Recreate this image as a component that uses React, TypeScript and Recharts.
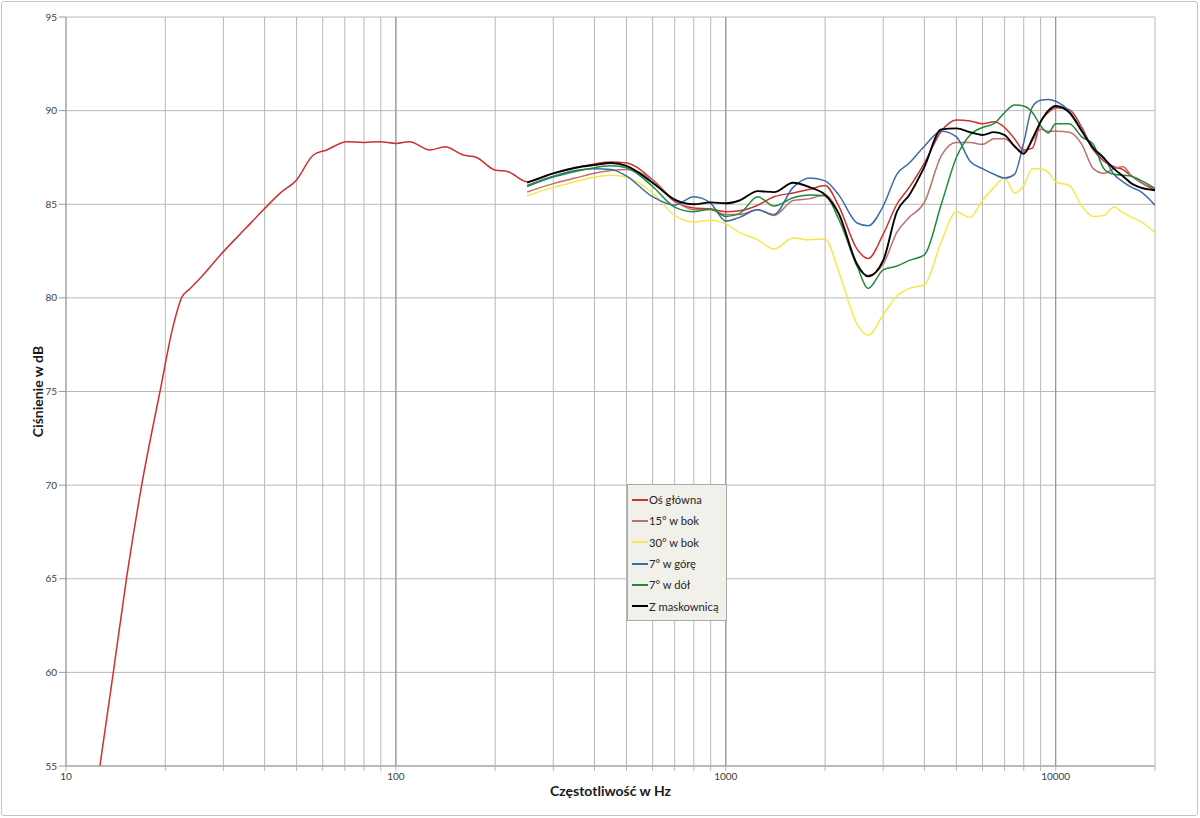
import React from 'react';
import { LineChart, Line, XAxis, YAxis, CartesianGrid, Legend, Label, ReferenceLine } from 'recharts';

// Frequencies (Hz) for the low-frequency part of the main axis curve
const freqLow = [12.67, 13.9, 15.28, 16.96, 19.27, 21.1, 22.4, 23.8, 25.5, 30, 35, 39.6, 44.5, 50, 56.2, 61.7, 70.9, 80, 89.4, 100, 110, 126.8, 140.8, 160, 175.6, 199.5, 218.8];
const osLow = [55, 59.95, 65.1, 70.0, 75.0, 78.45, 80.0, 80.5, 81.05, 82.47, 83.7, 84.69, 85.58, 86.3, 87.63, 87.9, 88.34, 88.3, 88.34, 88.25, 88.34, 87.9, 88.07, 87.63, 87.5, 86.83, 86.74];

// Frequencies (Hz) shared by all measurements from 250 Hz upward
const freqHigh = [250, 300, 350, 400, 450, 500, 600, 700, 800, 900, 1000, 1100, 1250, 1400, 1600, 1800, 2000, 2200, 2500, 2700, 3000, 3300, 3600, 4000, 4500, 5000, 5500, 6000, 6500, 7000, 7500, 8000, 8500, 9000, 9500, 10000, 11000, 12000, 13000, 14000, 15000, 16000, 17000, 18000, 20000];

const osHigh = [86.2, 86.65, 86.95, 87.15, 87.25, 87.2, 86.3, 85.15, 84.8, 84.75, 84.6, 84.65, 84.95, 85.4, 85.6, 85.8, 86.0, 84.9, 82.6, 82.1, 83.4, 85.0, 85.9, 87.2, 88.9, 89.5, 89.45, 89.3, 89.4, 89.1, 88.5, 87.9, 88.0, 89.4, 89.9, 90.15, 90.05, 89.1, 87.9, 87.3, 87.0, 86.85, 86.5, 86.2, 85.75];
const bok15 = [85.65, 86.1, 86.4, 86.65, 86.8, 86.85, 86.3, 85.2, 84.7, 84.7, 84.45, 84.45, 84.7, 84.4, 85.2, 85.3, 85.5, 84.5, 81.7, 81.2, 81.8, 83.5, 84.3, 85.1, 87.6, 88.3, 88.3, 88.2, 88.5, 88.5, 88.1, 87.8, 88.4, 89.0, 88.9, 88.9, 88.85, 88.2, 86.9, 86.65, 86.9, 87.0, 86.5, 86.2, 85.85];
const bok30 = [85.45, 85.9, 86.2, 86.45, 86.55, 86.45, 85.6, 84.4, 84.05, 84.15, 83.95, 83.5, 83.1, 82.6, 83.2, 83.1, 83.15, 81.4, 78.6, 78.0, 79.1, 80.1, 80.5, 80.7, 83.0, 84.6, 84.3, 85.2, 85.9, 86.4, 85.6, 86.0, 86.9, 86.9, 86.7, 86.2, 86.0, 84.9, 84.35, 84.4, 84.85, 84.55, 84.3, 84.1, 83.5];
const gora7 = [86.0, 86.5, 86.8, 86.9, 86.85, 86.5, 85.4, 84.95, 85.4, 85.05, 84.1, 84.3, 84.7, 84.45, 85.9, 86.4, 86.25, 85.5, 84.0, 83.85, 84.9, 86.6, 87.2, 88.1, 88.9, 88.6, 87.3, 86.9, 86.6, 86.4, 86.6, 88.3, 90.2, 90.55, 90.6, 90.5, 89.95, 88.95, 88.0, 87.5, 86.6, 86.2, 85.9, 85.7, 84.95];
const dol7 = [85.95, 86.45, 86.75, 86.95, 87.05, 86.95, 85.95, 84.85, 84.6, 84.75, 84.35, 84.5, 85.4, 84.9, 85.35, 85.5, 85.45, 84.2, 81.7, 80.5, 81.5, 81.7, 82.0, 82.3, 85.0, 87.5, 88.7, 89.1, 89.3, 89.9, 90.3, 90.25, 89.9, 89.2, 88.8, 89.3, 89.3, 88.6, 88.2, 86.9, 86.6, 86.55, 86.5, 86.3, 85.85];
const maskownica = [86.15, 86.65, 86.95, 87.1, 87.2, 87.05, 86.15, 85.25, 85.0, 85.1, 85.05, 85.2, 85.7, 85.65, 86.15, 85.9, 85.5, 84.5, 81.8, 81.15, 82.0, 84.6, 85.5, 87.0, 89.0, 89.05, 88.85, 88.7, 88.85, 88.7, 88.1, 87.7, 88.5, 89.4, 90.0, 90.25, 89.9, 88.9, 88.0, 87.45, 86.9, 86.5, 86.1, 85.9, 85.75];

const seriesNames = ['Oś główna', '15° w bok', '30° w bok', '7° w górę', '7° w dół', 'Z maskownicą'];
const seriesColors = ['#cc3030', '#c0706c', '#f4e84a', '#3c6ca4', '#1f8a3c', '#000000'];

const xTicks = [10, 20, 30, 40, 50, 60, 70, 80, 90, 100, 200, 300, 400, 500, 600, 700, 800, 900, 1000, 2000, 3000, 4000, 5000, 6000, 7000, 8000, 9000, 10000, 20000];
const xLabelTicks = [10, 100, 1000, 10000];
const yTicks = [55, 60, 65, 70, 75, 80, 85, 90, 95];

const toData = (fs: number[], vs: number[]) => fs.map((f, i) => ({ f, v: vs[i] }));

const seriesData = [
  toData([...freqLow, ...freqHigh], [...osLow, ...osHigh]),
  toData(freqHigh, bok15),
  toData(freqHigh, bok30),
  toData(freqHigh, gora7),
  toData(freqHigh, dol7),
  toData(freqHigh, maskownica),
];

const FONT = 'Lato, "Open Sans", sans-serif';

const LegendBox = () => (
  <div style={{ position: 'absolute', left: 627, top: 484, width: 94, background: '#f1f0ea', border: '1px solid #a9a9a9', padding: '4px 0 3px 4px', fontFamily: FONT, fontSize: 11.2, color: '#262626', whiteSpace: 'nowrap', textAlign: 'left', lineHeight: 1 }}>
    {seriesNames.map((name, i) => (
      <div key={name} style={{ display: 'flex', alignItems: 'center', height: 21.3 }}>
        <span style={{ display: 'inline-block', width: 16, height: 0, borderTop: `2px solid ${seriesColors[i]}`, marginRight: 1 }} />
        <span>{name}</span>
      </div>
    ))}
  </div>
);

export default function App() {
  return (
    <div style={{ position: 'absolute', left: 0, top: 0, width: 1200, height: 818, background: '#fff' }}>
      <div style={{ position: 'absolute', left: 1, top: 1, width: 1195, height: 813, border: '1px solid #c4c4c4', borderRadius: 3 }} />
      <LineChart width={1200} height={818} margin={{ top: 17, right: 45, bottom: 22, left: 8 }}>
        <CartesianGrid stroke="#b8b8b8" strokeWidth={1} />
        <XAxis
          dataKey="f"
          type="number"
          scale="log"
          domain={[10, 20000]}
          allowDataOverflow
          ticks={xTicks}
          interval={0}
          height={30}
          tickSize={5}
          tickLine={{ stroke: '#b8b8b8' }}
          axisLine={{ stroke: '#9a9a9a' }}
          tick={{ fontSize: 10, fill: '#404040', fontFamily: FONT }}
          tickFormatter={(v: number) => (xLabelTicks.includes(v) ? String(v) : '')}
        >
          <Label value="Częstotliwość w Hz" position="insideBottom" offset={0} style={{ fontSize: 14, fontWeight: 700, fill: '#1a1a1a', fontFamily: FONT }} />
        </XAxis>
        <YAxis
          type="number"
          domain={[55, 95]}
          ticks={yTicks}
          interval={0}
          width={58}
          tickSize={7}
          tickMargin={2}
          tickLine={{ stroke: '#9a9a9a' }}
          axisLine={{ stroke: '#9a9a9a' }}
          tick={{ fontSize: 10, fill: '#404040', fontFamily: FONT }}
        >
          <Label
            content={(p: any) => {
              const vb = p.viewBox || { x: 8, y: 17, width: 58, height: 749 };
              const cx = vb.x + 29;
              const cy = vb.y + vb.height / 2;
              return (
                <text x={cx} y={cy} transform={`rotate(-90 ${cx} ${cy})`} textAnchor="middle" dominantBaseline="central" style={{ fontSize: 14, fontWeight: 700, fill: '#1a1a1a', fontFamily: FONT }}>
                  Ciśnienie w dB
                </text>
              );
            }}
          />
        </YAxis>
        {[100, 1000, 10000].map((d) => (
          <ReferenceLine key={d} x={d} stroke="#8c8c8c" strokeWidth={1} ifOverflow="hidden" />
        ))}
        <Legend
          layout="horizontal"
          verticalAlign="middle"
          align="center"
          content={<LegendBox />}
          wrapperStyle={{ position: 'absolute', left: 0, top: 0, width: 0, height: 0 }}
        />
        {seriesNames.map((name, i) => (
          <Line
            key={name}
            data={seriesData[i]}
            dataKey="v"
            name={name}
            type="monotone"
            stroke={seriesColors[i]}
            strokeWidth={i === 5 ? 1.9 : 1.5}
            dot={false}
            activeDot={false}
            legendType="line"
            isAnimationActive={false}
          />
        ))}
      </LineChart>
    </div>
  );
}
